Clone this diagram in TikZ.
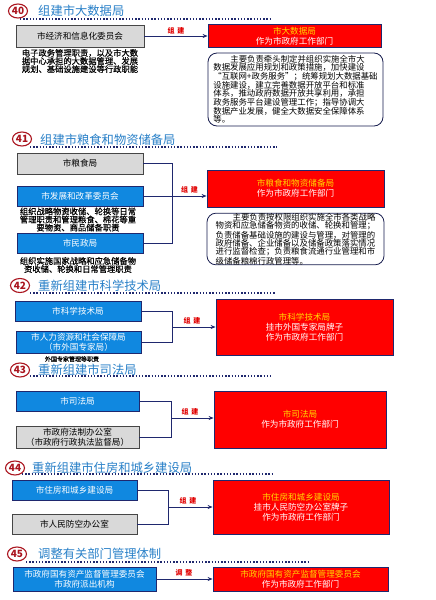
\documentclass[tikz,border=0pt]{standalone}
\usepackage{fontspec}
\setmainfont{Noto Sans CJK SC}
\newfontfamily\semib[FakeBold=0.6]{Noto Sans CJK SC}
\usetikzlibrary{shapes.geometric,arrows.meta}
\definecolor{navy}{RGB}{31,40,110}
\definecolor{boxblue}{RGB}{16,136,224}
\definecolor{boxgray}{RGB}{217,217,217}
\definecolor{edgegray}{RGB}{70,70,70}
\definecolor{titleblue}{RGB}{40,128,200}
\definecolor{badgered}{RGB}{170,20,30}
\definecolor{lblred}{RGB}{225,0,0}
\definecolor{hiyellow}{RGB}{255,215,0}
\begin{document}
\begin{tikzpicture}[x=1pt,y=-1pt,
  every node/.style={inner sep=0pt},
  bluebox/.style={draw=navy,line width=0.8pt,fill=boxblue,text=white,align=center,font=\fontsize{8.6}{10.2}\selectfont},
  graybox/.style={draw=edgegray,line width=0.9pt,fill=boxgray,text=black,align=center,font=\fontsize{8.6}{10.2}\selectfont},
  redbox/.style={draw=navy,line width=0.8pt,fill=red,text=white,align=center,font=\fontsize{8.6}{10.2}\selectfont},
  notebox/.style={draw=navy!70!black,line width=0.8pt,rounded corners=9pt,fill=white,align=left,font=\fontsize{8.4}{8.3}\selectfont},
  desc/.style={align=center,font=\semib\fontsize{8.3}{8.1}\selectfont},
  badge/.style={ellipse,draw=badgered,line width=1.1pt,minimum width=19pt,minimum height=14pt,text=badgered,font=\bfseries\fontsize{10}{10}\selectfont},
  titletext/.style={anchor=west,text=titleblue,font=\fontsize{12.3}{13}\selectfont},
  dots/.style={draw=navy,line width=1.4pt,dash pattern=on 1.4pt off 1.8pt},
  lbl/.style={text=lblred,font=\bfseries\fontsize{7}{7}\selectfont},
  conn/.style={draw=navy,line width=0.8pt},
  arr/.style={conn,-{Stealth[length=5pt,width=4pt]}}
]
\useasboundingbox (0,0) rectangle (436,600);
\fill[white] (0,0) rectangle (436,600);

% ---------- 40 ----------
\draw[dots] (20,19) -- (270,19);
\node[badge] (n40) at (18,11) {40};
\node[titletext] (t40) at (38,11) {组建市大数据局};
\node[graybox,minimum width=128pt,minimum height=22pt] (g40) at (80,36) {市经济和信息化委员会};
\node[desc,align=left] (d40) at (80,61) {电子政务管理职责，以及市大数\\据中心承担的大数据管理、发展\\规划、基础设施建设等行政职能};
\node[redbox,minimum width=173pt,minimum height=23pt] (r40) at (294.5,36) {\textcolor{hiyellow}{市大数据局}\\作为市政府工作部门};
\node[notebox,minimum width=175pt,minimum height=73pt] (m40) at (295.5,89.5) {\hspace*{17pt}主要负责牵头制定并组织实施全市大\\数据发展应用规划和政策措施，加快建设\\“互联网+政务服务”；统筹规划大数据基础\\设施建设，建立完善数据开放平台和标准\\体系，推动政府数据开放共享利用，承担\\政务服务平台建设管理工作；指导协调大\\数据产业发展，健全大数据安全保障体系\\等。};
\draw[arr] (g40.east) -- (r40.west);
\node[lbl] (l40) at (176,30.5) {组\hspace{3pt}建};

% ---------- 41 ----------
\draw[dots] (30,147) -- (277,147);
\node[badge] (n41) at (22,139) {41};
\node[titletext] (t41) at (40,139.5) {组建市粮食和物资储备局};
\node[graybox,minimum width=126pt,minimum height=21pt] (a41) at (80,163.5) {市粮食局};
\node[bluebox,minimum width=126pt,minimum height=20pt] (b41) at (80,196) {市发展和改革委员会};
\node[desc] (d41) at (78,219.5) {组织战略物资收储、轮换等日常\\管理职责和管理粮食、棉花等重\\要物资、商品储备职责};
\node[bluebox,minimum width=126pt,minimum height=20pt] (c41) at (80,243.5) {市民政局};
\node[desc] (e41) at (78,265) {组织实施国家战略和应急储备物\\资收储、轮换和日常管理职责};
\coordinate (j41) at (172,196);
\node[redbox,minimum width=177pt,minimum height=37pt] (r41) at (295.5,188.5) {\textcolor{hiyellow}{市粮食和物资储备局}\\作为市政府工作部门};
\node[notebox,minimum width=177pt,minimum height=50pt] (m41) at (295.5,239) {\hspace*{17pt}主要负责按权限组织实施全市各类战略\\物资和应急储备物资的收储、轮换和管理；\\负责储备基础设施的建设与管理，对管理的\\政府储备、企业储备以及储备政策落实情况\\进行监督检查；负责粮食流通行业管理和市\\级储备粮棉行政管理等。};
\draw[conn] (a41.east) -| (j41);
\draw[conn] (c41.east) -| (j41);
\draw[arr] (b41.east) -- (b41.east -| r41.west);
\node[lbl] (l41) at (189.5,190) {组\hspace{3pt}建};

% ---------- 42 ----------
\draw[dots] (30,293) -- (276,293);
\node[badge] (n42) at (20,285.5) {42};
\node[titletext] (t42) at (38,285.5) {重新组建市科学技术局};
\node[bluebox,minimum width=126pt,minimum height=20pt] (a42) at (78,311) {市科学技术局};
\node[bluebox,minimum width=125pt,minimum height=22pt] (b42) at (78.5,342.5) {市人力资源和社会保障局\\（市外国专家局）};
\node[desc,font=\semib\fontsize{6}{6}\selectfont] (d42) at (72,359) {外国专家管理等职责};
\coordinate (j42) at (172,327);
\node[redbox,minimum width=177pt,minimum height=56pt] (r42) at (304.5,327) {\textcolor{hiyellow}{市科学技术局}\\挂市外国专家局牌子\\作为市政府工作部门};
\draw[conn] (a42.east) -| (j42);
\draw[conn] (b42.east) -| (j42);
\draw[arr] (j42) -- (r42.west);
\node[lbl] (l42) at (192,321) {组\hspace{3pt}建};

% ---------- 43 ----------
\draw[dots] (30,376) -- (272,376);
\node[badge] (n43) at (20,370) {43};
\node[titletext] (t43) at (38,370) {重新组建市司法局};
\node[bluebox,minimum width=123pt,minimum height=20pt] (a43) at (77.5,401) {市司法局};
\node[graybox,minimum width=123pt,minimum height=22pt] (b43) at (77.5,437) {市政府法制办公室\\（市政府行政执法监督局）};
\coordinate (j43) at (171,418);
\node[redbox,minimum width=172pt,minimum height=57pt] (r43) at (300,419.5) {\textcolor{hiyellow}{市司法局}\\作为市政府工作部门};
\draw[conn] (a43.east) -| (j43);
\draw[conn] (b43.east) -| (j43);
\draw[arr] (j43) -- (j43 -| r43.west);
\node[lbl] (l43) at (190,412) {组\hspace{3pt}建};

% ---------- 44 ----------
\draw[dots] (22,474) -- (272,474);
\node[badge] (n44) at (15,468) {44};
\node[titletext] (t44) at (32,468) {重新组建市住房和城乡建设局};
\node[bluebox,minimum width=125pt,minimum height=20pt] (a44) at (74.5,490) {市住房和城乡建设局};
\node[graybox,minimum width=125pt,minimum height=20pt] (b44) at (74.5,524) {市人民防空办公室};
\coordinate (j44) at (168,507);
\node[redbox,minimum width=176pt,minimum height=54pt] (r44) at (301,507) {\textcolor{hiyellow}{市住房和城乡建设局}\\挂市人民防空办公室牌子\\作为市政府工作部门};
\draw[conn] (a44.east) -| (j44);
\draw[conn] (b44.east) -| (j44);
\draw[arr] (j44) -- (r44.west);
\node[lbl] (l44) at (188,501) {组\hspace{3pt}建};

% ---------- 45 ----------
\draw[dots] (26,562) -- (310,562);
\node[badge] (n45) at (17,554) {45};
\node[titletext] (t45) at (38,553.5) {调整有关部门管理体制};
\node[bluebox,minimum width=143pt,minimum height=24pt] (a45) at (84.5,579) {市政府国有资产监督管理委员会\\市政府派出机构};
\node[redbox,minimum width=175pt,minimum height=24pt] (r45) at (300.5,579) {\textcolor{hiyellow}{市政府国有资产监督管理委员会}\\作为市政府工作部门};
\draw[arr] (a45.east) -- (r45.west);
\node[lbl] (l45) at (184,573) {调\hspace{3pt}整};
\end{tikzpicture}
\end{document}
